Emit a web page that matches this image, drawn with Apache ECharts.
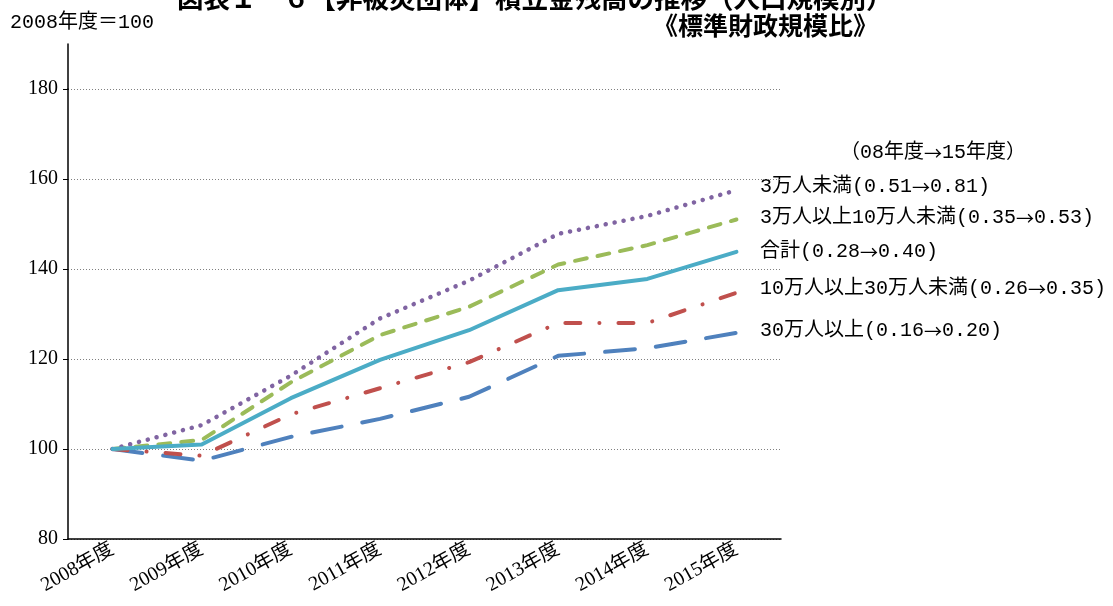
<!DOCTYPE html>
<html>
<head>
<meta charset="utf-8">
<script src="https://cdn.jsdelivr.net/npm/echarts@6/dist/echarts.min.js"></script>
<style>
  html, body { margin: 0; padding: 0; background: #fff; }
  #chart { width: 1113px; height: 606px; }
</style>
</head>
<body>
<div id="chart"></div>
<script>
// Fiscal years on the category axis
const years = ['2008年度', '2009年度', '2010年度', '2011年度', '2012年度', '2013年度', '2014年度', '2015年度'];

// Value axis ticks (index, 2008 = 100)
const yTickValues = [80, 100, 120, 140, 160, 180];
const yAxisTop = 190;

// Reserve balance index by population size
const under30k = [100, 105.3, 116.3, 129.0, 137.4, 147.8, 151.8, 157.5];
const from30kTo100k = [100, 102.0, 114.8, 125.3, 131.6, 141.0, 145.3, 151.0];
const total = [100, 101.0, 111.3, 119.8, 126.4, 135.3, 137.8, 143.8];
const from100kTo300k = [100, 98.5, 107.7, 113.5, 119.3, 128.0, 128.0, 134.7];
const over300k = [100, 97.4, 102.7, 106.7, 111.6, 120.7, 122.4, 125.8];

// Series names and ratios to standard fiscal scale (FY08 -> FY15)
const seriesNames = ['3万人未満', '3万人以上10万人未満', '合計', '10万人以上30万人未満', '30万人以上'];
const ratioFrom = ['0.51', '0.35', '0.28', '0.26', '0.16'];
const ratioTo = ['0.81', '0.53', '0.40', '0.35', '0.20'];
const headerFrom = '08年度';
const headerTo = '15年度';
const titleMain = '図表１－６【非被災団体】積立金残高の推移（人口規模別）';
const titleSub = '《標準財政規模比》';
const baseNote = '2008年度＝100';

const MONO = '"Liberation Mono", "Noto Sans CJK JP", monospace';
const SERIF = '"Liberation Serif", "Noto Sans CJK JP", serif';
const SANS = '"Noto Sans CJK JP", "Noto Sans", sans-serif';

const chart = echarts.init(document.getElementById('chart'));

function lineSeries(name, data, color, dash, width) {
  return {
    name: name,
    type: 'line',
    xAxisIndex: 0,
    yAxisIndex: 0,
    data: data,
    symbol: 'none',
    silent: true,
    animation: false,
    lineStyle: { color: color, width: width, type: dash, cap: 'round', join: 'round' }
  };
}

// Text runs with a full-width arrow between the two ratios
const richStyles = {
  t: { fontSize: 20, fontFamily: MONO, fill: '#000' },
  r: { fontSize: 18, fontFamily: SANS, fill: '#000' }
};
function arrowText(prefix, from, to, suffix) {
  return '{t|' + prefix + from + '}{r|→}{t|' + to + suffix + '}';
}

const legendRows = [187, 218, 252, 289, 331];
const annotations = seriesNames.map((n, i) => ({
  type: 'text',
  x: 760,
  y: legendRows[i],
  style: {
    text: arrowText(n + '(', ratioFrom[i], ratioTo[i], ')'),
    rich: richStyles,
    verticalAlign: 'middle'
  }
}));

chart.setOption({
  animation: false,
  backgroundColor: '#fff',
  grid: [
    { left: 68, right: 332, top: 89, bottom: 67 },
    { left: 68, right: 332, top: 44, height: 45 }
  ],
  xAxis: [
    {
      type: 'category',
      gridIndex: 0,
      data: years,
      boundaryGap: true,
      axisLine: { lineStyle: { color: '#000', width: 1.5 } },
      axisTick: { alignWithLabel: true, inside: true, length: 5, lineStyle: { color: '#000' } },
      axisLabel: { rotate: 29, margin: 9, color: '#000', fontSize: 20, fontFamily: SERIF, interval: 0 }
    },
    { type: 'category', gridIndex: 1, data: years, show: false }
  ],
  yAxis: [
    {
      type: 'value',
      gridIndex: 0,
      min: yTickValues[0],
      max: yTickValues[yTickValues.length - 1],
      interval: yTickValues[1] - yTickValues[0],
      axisLine: { show: true, lineStyle: { color: '#000', width: 1.5 } },
      axisTick: { show: true, length: 5, lineStyle: { color: '#000' } },
      axisLabel: { color: '#000', fontSize: 20, fontFamily: SERIF, margin: 10 },
      splitLine: { show: true, lineStyle: { color: '#808080', width: 1, type: [1, 2] } }
    },
    {
      type: 'value',
      gridIndex: 1,
      min: yTickValues[yTickValues.length - 1],
      max: yAxisTop,
      axisLine: { show: true, lineStyle: { color: '#000', width: 1.5 } },
      axisTick: { show: false },
      axisLabel: { show: false },
      splitLine: { show: false }
    }
  ],
  series: [
    lineSeries(seriesNames[4], over300k, '#4F81BD', [30, 21], 4),
    lineSeries(seriesNames[3], from100kTo300k, '#C0504D', [15, 19, 0.1, 19], 4),
    lineSeries(seriesNames[1], from30kTo100k, '#9BBB59', [12, 11], 4),
    lineSeries(seriesNames[0], under30k, '#8064A2', [0.1, 9], 4.5),
    lineSeries(seriesNames[2], total, '#4BACC6', 'solid', 4)
  ],
  graphic: [
    { type: 'text', x: 177, y: -2, style: { text: titleMain, font: 'bold 26.5px ' + SANS, fill: '#000', verticalAlign: 'middle' } },
    { type: 'text', x: 653, y: 25, style: { text: titleSub, font: 'bold 25px ' + SANS, fill: '#000', verticalAlign: 'middle' } },
    { type: 'text', x: 10, y: 23, style: { text: baseNote, font: '20px ' + MONO, fill: '#000', verticalAlign: 'middle' } },
    {
      type: 'text', x: 840, y: 153,
      style: { text: arrowText('（', headerFrom, headerTo, '）'), rich: richStyles, verticalAlign: 'middle' }
    }
  ].concat(annotations)
});
</script>
</body>
</html>
